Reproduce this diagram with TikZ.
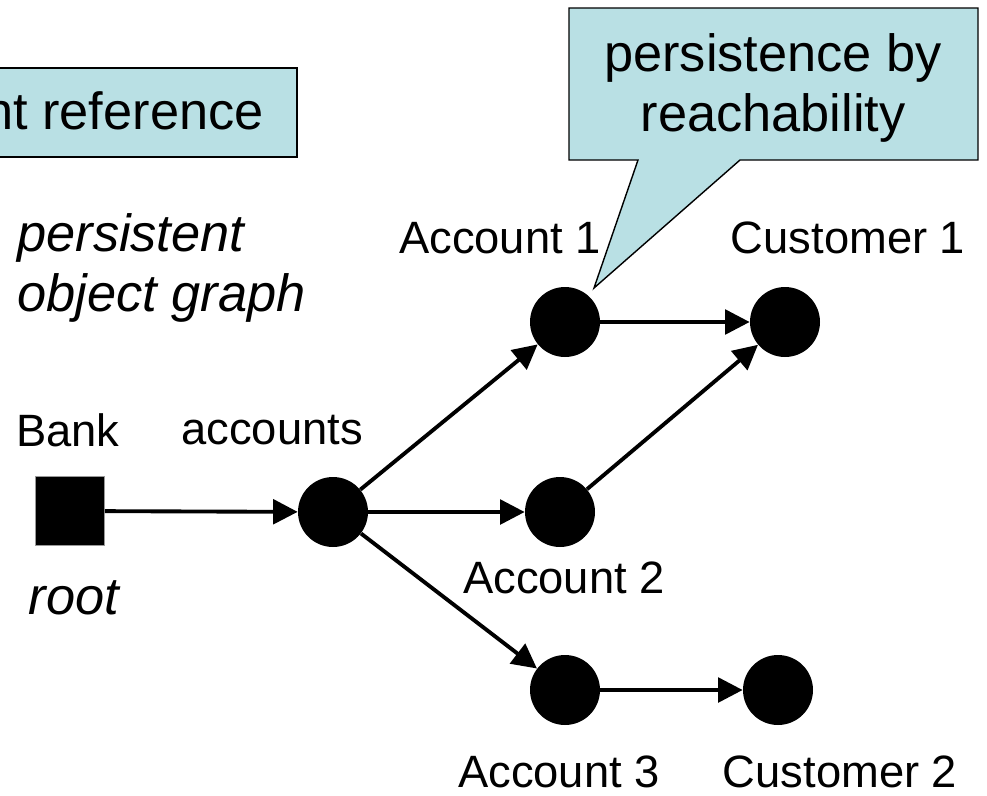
\documentclass[tikz,border=0pt]{standalone}
\usepackage{fontspec}
\setmainfont{Liberation Sans}
\usetikzlibrary{arrows.meta}
\definecolor{calloutblue}{RGB}{185,224,228}
\tikzset{
  obj/.style={circle, fill=black, minimum size=1.4cm, inner sep=0pt},
  rootobj/.style={rectangle, fill=black, draw=black!40, line width=0.4pt, minimum size=1.38cm, inner sep=0pt},
  lbl/.style={font=\fontsize{25.8}{31}\selectfont, inner sep=0pt},
  biglbl/.style={font=\fontsize{29.8}{34}\selectfont, inner sep=0pt},
  ref/.style={-{Triangle[length=14pt,width=14pt]}, line width=2.2pt},
  callout/.style={fill=calloutblue, draw=black, line width=0.8pt}
}

\begin{document}
\begin{tikzpicture}[x=0.02cm, y=-0.02cm]
		%%%%% START %%%%%
		\useasboundingbox (0, 0) rectangle (987, 795);
		\clip (0, 0) rectangle (987, 795);
		
		% callouts
		\draw[callout] (-40, 68) rectangle (297, 157);
		\node[biglbl, anchor=east] (reftext) at (264, 111) {nt reference};
		\draw[callout] (569, 8) -- (978, 8) -- (978, 160) -- (740, 160) -- (594, 288) -- (638, 160) -- (569, 160) -- cycle;
		\node[biglbl, align=center] (reach) at (773, 88) {persistence by\\reachability};
		
		% objects
		\node[rootobj] (bank) at (70, 511) {};
		\node[obj] (accounts) at (333, 512) {};
		\node[obj] (acc1) at (565, 322) {};
		\node[obj] (acc2) at (560, 512) {};
		\node[obj] (acc3) at (565, 690) {};
		\node[obj] (cust1) at (785, 322) {};
		\node[obj] (cust2) at (778, 690) {};
		
		% labels
		\node[lbl] (banklbl) at (68, 430) {Bank};
		\node[lbl] (accountslbl) at (272, 430) {accounts};
		\node[biglbl] (rootlbl) at (74, 598) {\itshape root};
		\node[biglbl, align=left, anchor=west] (graphlbl) at (17, 268) {\itshape persistent\\\itshape object graph};
		\node[lbl] (acc1lbl) at (500, 238) {Account 1};
		\node[lbl] (cust1lbl) at (848, 238) {Customer 1};
		\node[lbl] (acc2lbl) at (564, 578) {Account 2};
		\node[lbl] (acc3lbl) at (559, 772) {Account 3};
		\node[lbl] (cust2lbl) at (840, 772) {Customer 2};
		
		% references
		\draw[ref] (bank) -- (accounts);
		\draw[ref] (accounts) -- (acc1);
		\draw[ref] (accounts) -- (acc2);
		\draw[ref] (accounts) -- (acc3);
		\draw[ref] (acc1) -- (cust1);
		\draw[ref] (acc2) -- (cust1);
		\draw[ref] (acc3) -- (cust2);
		%%%%% END %%%%%
\end{tikzpicture}
\end{document}
